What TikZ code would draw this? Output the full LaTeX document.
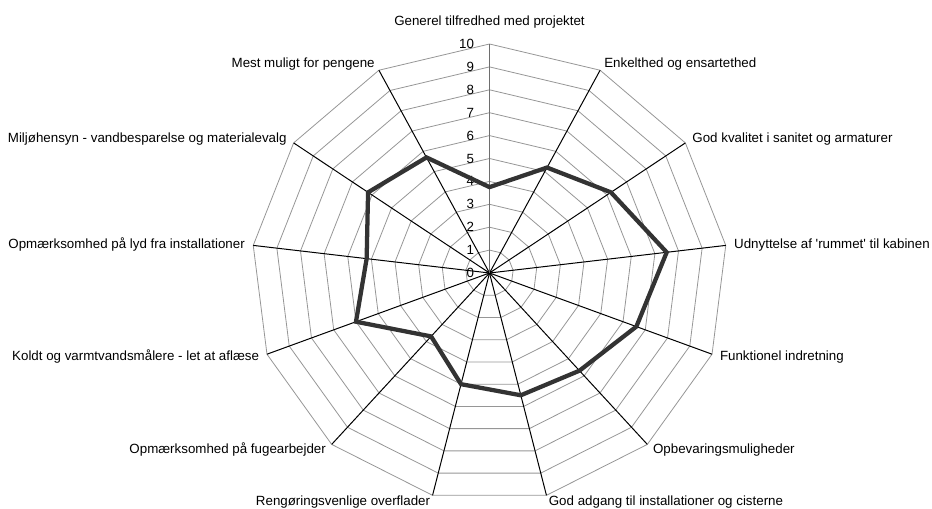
\documentclass[tikz,border=0pt]{standalone}
\usepackage{fontspec}
\setmainfont{Liberation Sans}
\usetikzlibrary{calc}

\tikzset{every picture/.style={line width=0.75pt}}
\tikzset{
  gridline/.style={color={rgb, 255:red, 150; green, 150; blue, 150 }, line width=0.6},
  spoke/.style={color={rgb, 255:red, 0; green, 0; blue, 0 }, line width=0.75},
  valueaxis/.style={color={rgb, 255:red, 110; green, 110; blue, 110 }, line width=1.2},
  scoreline/.style={color={rgb, 255:red, 51; green, 51; blue, 51 }, line width=3.2, line join=miter},
  chartlabel/.style={inner sep=0pt, font=\fontsize{10}{12}\selectfont},
}

\begin{document}
\begin{tikzpicture}[x=0.75pt,y=0.75pt,yscale=-1,xscale=1]
\useasboundingbox (0,0) rectangle (932,509);

%Centre and spoke ends
\coordinate (c) at (489.5,273);
\foreach \i in {0,...,12}
  \coordinate (e\i) at ({489.5+238*sin(\i*360/13)},{273-229*cos(\i*360/13)});

%Grid rings
\foreach \r in {1,...,10}
  \draw [gridline] ($(c)!\r/10!(e0)$) \foreach \i in {1,...,12}{ -- ($(c)!\r/10!(e\i)$) } -- cycle;

%Spokes
\foreach \i in {1,...,12}
  \draw [spoke] (c) -- (e\i);
\draw [valueaxis] (c) -- (e0);

% Tick labels
\foreach \v in {0,...,10}
  \node [chartlabel, anchor=east] (t\v) at ($(c)!\v/10!(e0)+(-15,0)$) {\v};

%Scores
\foreach \i/\v in {0/3.75,1/5.2,2/6.2,3/7.5,4/6.6,5/5.7,6/5.5,7/5.0,8/3.7,9/6.0,10/5.2,11/6.2,12/5.7}
  \coordinate (s\i) at ($(c)!\v/10!(e\i)$);
\draw [scoreline] (s0) \foreach \i in {1,...,12}{ -- (s\i) } -- cycle;

% Text Node
\node [chartlabel, anchor=base] (l0) at ($(e0)+(0,-18)$) {Generel tilfredhed med projektet};
% Text Nodes right side
\foreach \i/\txt in {1/Enkelthed og ensartethed,
                     2/God kvalitet i sanitet og armaturer,
                     3/Udnyttelse af \textquotesingle rummet\textquotesingle{} til kabinen,
                     4/Funktionel indretning,
                     5/Opbevaringsmuligheder,
                     6/God adgang til installationer og cisterne}
  \node [chartlabel, anchor=mid west] (l\i) at ($(e\i)+({8*sin(\i*360/13)},{-7*cos(\i*360/13)})$) {\txt};
% Text Nodes left side
\foreach \i/\txt in {7/Rengøringsvenlige overflader,
                     8/Opmærksomhed på fugearbejder,
                     9/Koldt og varmtvandsmålere - let at aflæse,
                     10/Opmærksomhed på lyd fra installationer,
                     11/Miljøhensyn - vandbesparelse og materialevalg,
                     12/Mest muligt for pengene}
  \node [chartlabel, anchor=mid east] (l\i) at ($(e\i)+({8*sin(\i*360/13)},{-7*cos(\i*360/13)})$) {\txt};
\end{tikzpicture}
\end{document}
